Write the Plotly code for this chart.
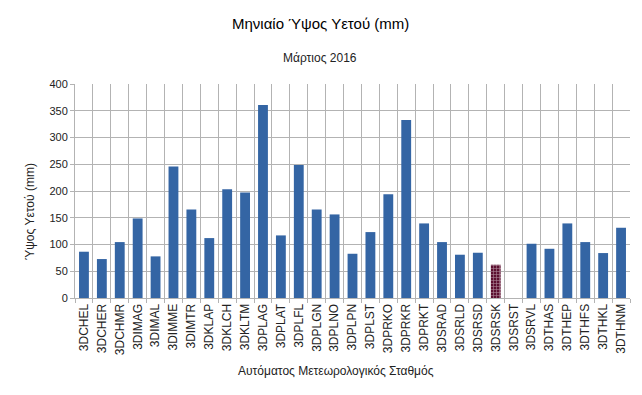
import plotly.graph_objects as go

stations = ["3DCHEL", "3DCHER", "3DCHMR", "3DIMAG", "3DIMAL", "3DIMME", "3DIMTR", "3DKLAP",
            "3DKLCH", "3DKLTM", "3DPLAG", "3DPLAT", "3DPLFL", "3DPLGN", "3DPLNO", "3DPLPN",
            "3DPLST", "3DPRKO", "3DPRKR", "3DPRKT", "3DSRAD", "3DSRLD", "3DSRSD", "3DSRSK",
            "3DSRST", "3DSRVL", "3DTHAS", "3DTHEP", "3DTHFS", "3DTHKL", "3DTHNM"]
rain_mm = [86.5, 72.8, 104.5, 148.7, 77.8, 245.7, 165.5, 112.0,
           203.4, 197.2, 360.8, 117.0, 248.8, 165.5, 156.2, 82.7,
           123.2, 194.0, 332.8, 139.4, 104.5, 80.9, 84.6, 62.2,
           None, 101.4, 92.0, 139.4, 104.5, 84.0, 131.3]
highlight = "3DSRSK"
y_ticks = [0, 50, 100, 150, 200, 250, 300, 350, 400]

colors = ["#5c1030" if s == highlight else "#3465a4" for s in stations]
shapes = ["+" if s == highlight else "" for s in stations]

fig = go.Figure(go.Bar(
    x=stations, y=rain_mm,
    marker=dict(color=colors, line=dict(width=0),
                pattern=dict(shape=shapes, fgcolor="#2a1850", size=3, solidity=0.35)),
    width=0.55,
))

# page has an 8px body offset
OFF = 8
W, H = 642, 395
ML, MT = 75 - OFF, 84 - OFF
pw, ph = 555, 214
MR = W - ML - pw
MB = H - MT - ph

def px_x(x):
    return (x - OFF - ML) / pw

def px_y(y):
    return (H - MB - (y - OFF)) / ph

font = "Liberation Sans, Arial, sans-serif"
fig.update_layout(
    width=W, height=H,
    margin=dict(l=ML, r=MR, t=MT, b=MB, autoexpand=False),
    paper_bgcolor="white", plot_bgcolor="white",
    font=dict(family=font, size=11, color="#222"),
    showlegend=False,
    annotations=[
        dict(text="Μηνιαίο Ύψος Υετού (mm)", x=px_x(320), y=px_y(24), xref="paper", yref="paper",
             yanchor="middle", xanchor="center", showarrow=False, font=dict(size=15, color="#000")),
        dict(text="Μάρτιος 2016", x=px_x(320), y=px_y(58), xref="paper", yref="paper",
             yanchor="middle", xanchor="center", showarrow=False, font=dict(size=12, color="#222")),
        dict(text="Αυτόματος Μετεωρολογικός Σταθμός", x=px_x(336), y=px_y(371), xref="paper", yref="paper",
             yanchor="middle", xanchor="center", showarrow=False, font=dict(size=12, color="#222")),
        dict(text="Ύψος Υετού (mm)", x=px_x(30), y=px_y(212), xref="paper", yref="paper",
             yanchor="middle", xanchor="center", textangle=-90, showarrow=False,
             font=dict(size=12, color="#222")),
    ],
)

fig.update_xaxes(
    type="category", tickangle=-90, tickson="boundaries", automargin=False,
    showgrid=True, gridcolor="#b3b3b3", gridwidth=1,
    ticks="outside", ticklen=4, tickcolor="#b3b3b3",
    showline=True, linecolor="#b3b3b3", mirror=False,
    tickfont=dict(size=12, color="#222"),
    range=[-0.5, len(stations) - 0.5],
)
fig.update_yaxes(
    range=[0, 400], tickvals=y_ticks, automargin=False,
    showgrid=True, gridcolor="#b3b3b3", gridwidth=1,
    ticks="outside", ticklen=4, tickcolor="#b3b3b3",
    showline=True, linecolor="#b3b3b3", zeroline=False,
    tickfont=dict(size=11, color="#222"),
)

fig.write_html("out.html")
